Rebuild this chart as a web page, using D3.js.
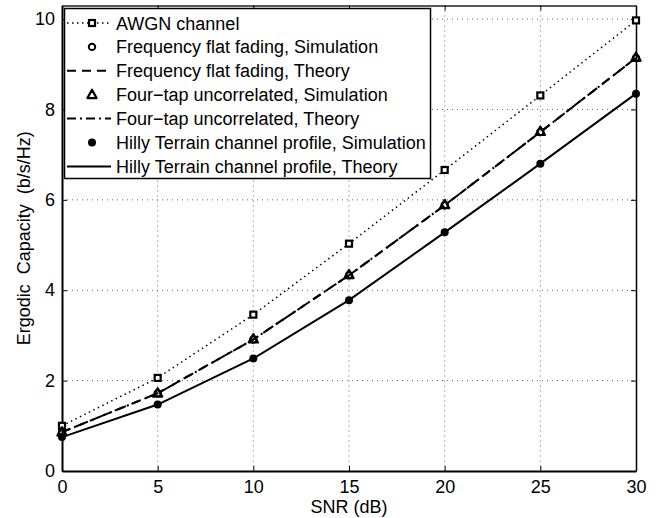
<!DOCTYPE html>
<html>
<head>
<meta charset="utf-8">
<script src="https://cdn.jsdelivr.net/npm/d3@7"></script>
<style>
  body { margin: 0; background: #fff; }
  svg { display: block; font-family: "Liberation Sans", Arial, Helvetica, sans-serif; }
</style>
</head>
<body>
<div id="chart"></div>
<script>
// SNR points (dB)
const snr = [0, 5, 10, 15, 20, 25, 30];

// ergodic capacity values (b/s/Hz)
const awgn = [1.00, 2.06, 3.46, 5.03, 6.66, 8.31, 9.97];
const flatSim = [0.86, 1.72, 2.91, 4.33, 5.88, 7.50, 9.14];
const flatTheory = [0.86, 1.72, 2.91, 4.33, 5.88, 7.50, 9.14];
const fourTapSim = [0.86, 1.72, 2.92, 4.34, 5.89, 7.51, 9.15];
const fourTapTheory = [0.86, 1.72, 2.91, 4.33, 5.88, 7.50, 9.14];
const hillySim = [0.75, 1.47, 2.49, 3.78, 5.28, 6.80, 8.35];
const hillyTheory = [0.75, 1.47, 2.49, 3.78, 5.28, 6.80, 8.35];

const xTicks = [0, 5, 10, 15, 20, 25, 30];
const yTicks = [0, 2, 4, 6, 8, 10];

const legendLabels = [
  "AWGN channel",
  "Frequency flat fading, Simulation",
  "Frequency flat fading, Theory",
  "Four\u2212tap uncorrelated, Simulation",
  "Four\u2212tap uncorrelated, Theory",
  "Hilly Terrain channel profile, Simulation",
  "Hilly Terrain channel profile, Theory"
];

const W = 660, H = 518;
const margin = { top: 5.5, right: 24, bottom: 47, left: 62 };
const width = W - margin.left - margin.right;
const height = H - margin.top - margin.bottom;
const fontSize = "18px";

const svg = d3.select("#chart").append("svg")
  .attr("width", W)
  .attr("height", H);

const g = svg.append("g")
  .attr("transform", `translate(${margin.left},${margin.top})`);

const x = d3.scaleLinear().domain([0, 30]).range([0, width]);
const y = d3.scaleLinear().domain([0, 10.3]).range([height, 0]);

// grid (dotted)
g.append("g").selectAll("line")
  .data(xTicks.slice(1, -1))
  .enter().append("line")
  .attr("x1", d => x(d)).attr("x2", d => x(d))
  .attr("y1", 0).attr("y2", height)
  .attr("stroke", "#666").attr("stroke-width", 1)
  .attr("stroke-dasharray", "1,4");

g.append("g").selectAll("line")
  .data(yTicks.slice(1))
  .enter().append("line")
  .attr("x1", 0).attr("x2", width)
  .attr("y1", d => y(d)).attr("y2", d => y(d))
  .attr("stroke", "#666").attr("stroke-width", 1)
  .attr("stroke-dasharray", "1,4");

// axes
const xAxis = g.append("g")
  .attr("transform", `translate(0,${height})`)
  .call(d3.axisBottom(x).tickValues(xTicks).tickSize(-5).tickPadding(9).tickSizeOuter(0));
const xAxisTop = g.append("g")
  .call(d3.axisTop(x).tickValues(xTicks).tickSize(-5).tickFormat("").tickSizeOuter(0));
const yAxis = g.append("g")
  .call(d3.axisLeft(y).tickValues(yTicks).tickSize(-5).tickPadding(7).tickSizeOuter(0));
const yAxisRight = g.append("g")
  .attr("transform", `translate(${width},0)`)
  .call(d3.axisRight(y).tickValues(yTicks).tickSize(-5).tickFormat("").tickSizeOuter(0));

[xAxis, xAxisTop, yAxis, yAxisRight].forEach(a => {
  a.select(".domain").attr("stroke", "#000").attr("stroke-width", 2);
  a.selectAll(".tick line").attr("stroke", "#000").attr("stroke-width", 1);
  a.selectAll(".tick text")
    .attr("fill", "#000")
    .style("font-size", fontSize)
    .style("font-family", "'Liberation Sans', Arial, sans-serif");
});
xAxisTop.select(".domain").attr("stroke-width", 1.5).attr("stroke", "#222");
yAxisRight.select(".domain").attr("stroke-width", 1.5);

// axis labels
svg.append("text")
  .attr("x", margin.left + width / 2)
  .attr("y", 513)
  .attr("text-anchor", "middle")
  .style("font-size", fontSize)
  .text("SNR (dB)");

svg.append("text")
  .attr("transform", `translate(24,${margin.top + height / 2}) rotate(-90)`)
  .attr("text-anchor", "middle")
  .attr("dy", "0.35em")
  .style("font-size", fontSize)
  .style("white-space", "pre")
  .attr("xml:space", "preserve")
  .text("Ergodic  Capacity  (b/s/Hz)");

// series definitions
const series = [
  { vals: awgn, dash: "1.5,3.5", width: 1.5, marker: "square" },
  { vals: flatSim, dash: null, width: 0, marker: "circle" },
  { vals: flatTheory, dash: "9,6", width: 2, marker: null },
  { vals: fourTapSim, dash: null, width: 0, marker: "triangle" },
  { vals: fourTapTheory, dash: "9,4,2,4", width: 2, marker: null },
  { vals: hillySim, dash: null, width: 0, marker: "dot" },
  { vals: hillyTheory, dash: null, width: 2, marker: null }
];

const line = d3.line()
  .x((d, i) => x(snr[i]))
  .y(d => y(d));

function drawMarker(sel, type, cx, cy) {
  if (type === "square") {
    sel.append("rect")
      .attr("x", cx - 3).attr("y", cy - 3)
      .attr("width", 6).attr("height", 6)
      .attr("fill", "#fff").attr("stroke", "#000").attr("stroke-width", 2.2);
  } else if (type === "circle") {
    sel.append("circle")
      .attr("cx", cx).attr("cy", cy).attr("r", 3.2)
      .attr("fill", "none").attr("stroke", "#000").attr("stroke-width", 2);
  } else if (type === "triangle") {
    sel.append("path")
      .attr("d", `M${cx},${cy - 5}L${cx + 4.6},${cy + 3.4}L${cx - 4.6},${cy + 3.4}Z`)
      .attr("fill", "none").attr("stroke", "#000").attr("stroke-width", 2.2)
      .attr("stroke-linejoin", "round");
  } else if (type === "dot") {
    sel.append("circle")
      .attr("cx", cx).attr("cy", cy).attr("r", 4)
      .attr("fill", "#000");
  }
}

series.forEach(s => {
  if (s.width > 0) {
    g.append("path")
      .datum(s.vals)
      .attr("d", line)
      .attr("fill", "none")
      .attr("stroke", "#000")
      .attr("stroke-width", s.width)
      .attr("stroke-dasharray", s.dash);
  }
});

series.forEach(s => {
  if (s.marker) {
    const mg = g.append("g");
    s.vals.forEach((v, i) => drawMarker(mg, s.marker, x(snr[i]), y(v)));
  }
});

// legend
const legend = svg.append("g");
legend.append("rect")
  .attr("x", 64.5).attr("y", 8.5)
  .attr("width", 366).attr("height", 170)
  .attr("fill", "#fff")
  .attr("stroke", "#000").attr("stroke-width", 1.5);

legendLabels.forEach((lab, i) => {
  const s = series[i];
  const ly = 23 + i * 23.9;
  if (s.width > 0) {
    legend.append("line")
      .attr("x1", 67).attr("x2", 111)
      .attr("y1", ly).attr("y2", ly)
      .attr("stroke", "#000")
      .attr("stroke-width", s.width)
      .attr("stroke-dasharray", s.dash);
  }
  if (s.marker) drawMarker(legend, s.marker, 92, ly);
  legend.append("text")
    .attr("x", 116)
    .attr("y", ly + 6.5)
    .style("font-size", fontSize)
    .text(lab);
});
</script>
</body>
</html>
